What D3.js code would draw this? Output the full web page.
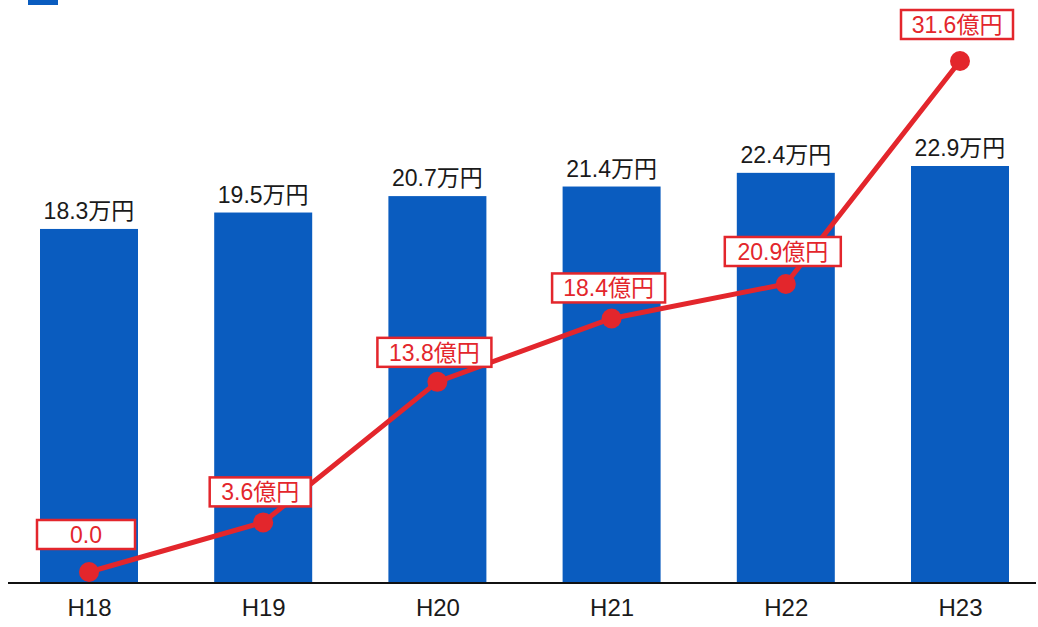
<!DOCTYPE html>
<html>
<head>
<meta charset="utf-8">
<script src="https://cdn.jsdelivr.net/npm/d3@7"></script>
<style>
  body { margin: 0; background: #fff; }
  svg { display: block; }
  text { font-family: "Liberation Sans", "Noto Sans CJK JP", sans-serif; }
</style>
</head>
<body>
<svg id="chart"></svg>
<script>
const years = ["H18", "H19", "H20", "H21", "H22", "H23"];
const perPerson = [18.3, 19.5, 20.7, 21.4, 22.4, 22.9];   // 万円
const cumulative = [0.0, 3.6, 13.8, 18.4, 20.9, 31.6];    // 億円
const cumLabels = ["0.0", "3.6億円", "13.8億円", "18.4億円", "20.9億円", "31.6億円"];

const svgWidth = 1038, svgHeight = 627;
const baseY = 582;
const svg = d3.select("#chart")
  .attr("width", svgWidth)
  .attr("height", svgHeight);

const x = d3.scalePoint().domain(years).range([89, 960]);
const barW = 98;

// bars don't start at zero in the original
const yBar = d3.scaleLinear().domain([-7.5, 22.9]).range([baseY, 166]);
// the line scale in the original is stretched at the top end
const yLine = d3.scaleLinear().domain([0, 20.9, 31.6]).range([572, 284, 61]);

const blue = "#0a5cbf", red = "#e3262c";

// cut-off title marker
svg.append("rect")
  .attr("x", 28).attr("y", 0)
  .attr("width", 30).attr("height", 5)
  .attr("fill", blue);

svg.selectAll(".bar")
  .data(perPerson)
  .join("rect")
  .attr("class", "bar")
  .attr("x", (d, i) => x(years[i]) - barW / 2)
  .attr("y", d => yBar(d))
  .attr("width", barW)
  .attr("height", d => baseY - yBar(d))
  .attr("fill", blue);

svg.selectAll(".barLabel")
  .data(perPerson)
  .join("text")
  .attr("class", "barLabel")
  .attr("x", (d, i) => x(years[i]))
  .attr("y", d => yBar(d) - 10)
  .attr("text-anchor", "middle")
  .attr("font-size", 23)
  .attr("fill", "#1a1a1a")
  .text(d => d.toFixed(1) + "万円");

// axis
const axis = svg.append("g")
  .attr("transform", "translate(0," + baseY + ")")
  .call(d3.axisBottom(x).tickSize(0).tickPadding(17));
axis.select(".domain").remove();
axis.selectAll("text")
  .attr("font-size", 24)
  .attr("fill", "#1a1a1a")
  .style("font-family", "'Liberation Sans', sans-serif");
svg.append("line")
  .attr("x1", 8).attr("x2", 1036)
  .attr("y1", baseY + 1).attr("y2", baseY + 1)
  .attr("stroke", "#111").attr("stroke-width", 2);

// line
const line = d3.line()
  .x((d, i) => x(years[i]))
  .y(d => yLine(d));

svg.append("path")
  .datum(cumulative)
  .attr("fill", "none")
  .attr("stroke", red)
  .attr("stroke-width", 5)
  .attr("stroke-linejoin", "round")
  .attr("d", line);

svg.selectAll(".dot")
  .data(cumulative)
  .join("circle")
  .attr("class", "dot")
  .attr("cx", (d, i) => x(years[i]))
  .attr("cy", d => yLine(d))
  .attr("r", 10)
  .attr("fill", red);

const gaps = [23, 16, 15, 16, 18, 22];
const boxW = [98, 101, 114, 113, 116, 112];
const lbl = svg.selectAll(".cumLabel")
  .data(cumulative)
  .join("g")
  .attr("class", "cumLabel")
  .attr("transform", (d, i) =>
    "translate(" + (x(years[i]) - 3) + "," + (yLine(d) - gaps[i] - 29) + ")");

lbl.append("rect")
  .attr("x", (d, i) => -boxW[i] / 2)
  .attr("y", 0)
  .attr("width", (d, i) => boxW[i])
  .attr("height", 29)
  .attr("fill", "#fff")
  .attr("stroke", red)
  .attr("stroke-width", 2.5);

lbl.append("text")
  .attr("x", 0)
  .attr("y", 23)
  .attr("text-anchor", "middle")
  .attr("font-size", 23)
  .attr("fill", red)
  .text((d, i) => cumLabels[i]);
</script>
</body>
</html>
